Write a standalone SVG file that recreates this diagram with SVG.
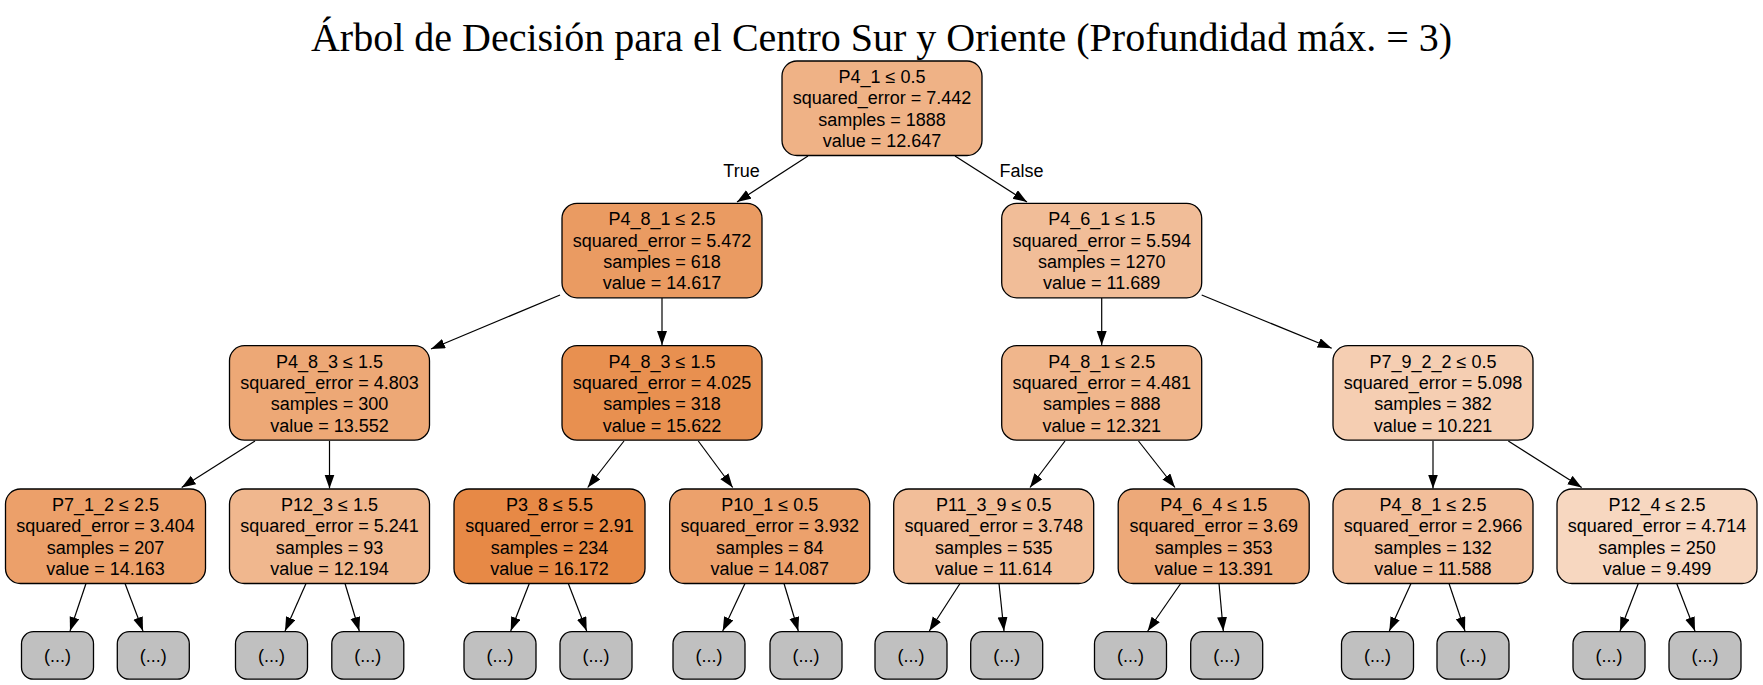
<svg xmlns="http://www.w3.org/2000/svg" width="1763" height="685" viewBox="0 0 1763 685">
<style>
.nd rect{stroke:#000;stroke-width:1.3}
.nd text{font-family:"Liberation Sans",Arial,sans-serif;font-size:18px;fill:#000;text-anchor:middle}
.lf rect{fill:#c0c0c0}
.ed line{stroke:#000;stroke-width:1.2;marker-end:url(#ah)}
.lb{font-family:"Liberation Sans",Arial,sans-serif;font-size:18px;fill:#000;text-anchor:middle}
.title{font-family:"Liberation Serif","Times New Roman",serif;font-size:40px;fill:#000;text-anchor:middle}
</style>
<defs>
<marker id="ah" markerUnits="userSpaceOnUse" markerWidth="15" markerHeight="11" refX="14" refY="5" orient="auto">
<path d="M0,0 L14,5 L0,10 z" fill="#000"/>
</marker>
</defs>
<rect x="0" y="0" width="1763" height="685" fill="#fff"/>
<text class="title" x="881.5" y="51">Árbol de Decisión para el Centro Sur y Oriente (Profundidad máx. = 3)</text>

<g id="edges" class="ed">
<line x1="808" y1="156" x2="737" y2="202"/>
<line x1="955" y1="156" x2="1027" y2="202"/>
<line x1="560" y1="295" x2="431" y2="349"/>
<line x1="662" y1="298" x2="662" y2="345"/>
<line x1="1101.7" y1="298" x2="1101.7" y2="345"/>
<line x1="1201.7" y1="295" x2="1331.7" y2="348.3"/>
<line x1="255" y1="441" x2="181.7" y2="487.5"/>
<line x1="329.5" y1="441" x2="329.5" y2="488.5"/>
<line x1="624" y1="441" x2="587.7" y2="487.5"/>
<line x1="698.3" y1="441" x2="732.7" y2="487.5"/>
<line x1="1065" y1="441" x2="1030" y2="487.5"/>
<line x1="1138.5" y1="441" x2="1175" y2="487.5"/>
<line x1="1433" y1="441" x2="1433" y2="488.5"/>
<line x1="1508.3" y1="441" x2="1581.7" y2="487.5"/>
<line x1="86" y1="583.5" x2="70" y2="631"/>
<line x1="125" y1="583.5" x2="143" y2="631"/>
<line x1="306" y1="583.5" x2="285" y2="631"/>
<line x1="345" y1="583.5" x2="359.3" y2="631"/>
<line x1="529.3" y1="583.5" x2="510.7" y2="631"/>
<line x1="568.3" y1="583.5" x2="586.7" y2="631"/>
<line x1="745" y1="583.5" x2="722.7" y2="631"/>
<line x1="784" y1="583.5" x2="798.3" y2="631"/>
<line x1="960" y1="583.5" x2="929.3" y2="631"/>
<line x1="999" y1="583.5" x2="1004" y2="631"/>
<line x1="1180.7" y1="583.5" x2="1147.7" y2="631"/>
<line x1="1219" y1="583.5" x2="1223.3" y2="631"/>
<line x1="1411" y1="583.5" x2="1389.3" y2="631"/>
<line x1="1449" y1="583.5" x2="1465" y2="631"/>
<line x1="1638.3" y1="583.5" x2="1620" y2="631"/>
<line x1="1676.7" y1="583.5" x2="1695" y2="631"/>
<text class="lb" x="741.5" y="177">True</text>
<text class="lb" x="1021.5" y="177">False</text>
</g>

<g id="n0" class="nd"><rect x="782" y="61" width="200" height="94.5" rx="15" fill="#efb286"/>
<text x="882" y="83">P4_1 ≤ 0.5</text><text x="882" y="104.3">squared_error = 7.442</text><text x="882" y="125.6">samples = 1888</text><text x="882" y="146.9">value = 12.647</text></g>

<g id="n1" class="nd"><rect x="562" y="203.3" width="200" height="94.5" rx="15" fill="#ea9b62"/>
<text x="662" y="225.3">P4_8_1 ≤ 2.5</text><text x="662" y="246.6">squared_error = 5.472</text><text x="662" y="267.9">samples = 618</text><text x="662" y="289.2">value = 14.617</text></g>

<g id="n2" class="nd"><rect x="1001.7" y="203.3" width="200" height="94.5" rx="15" fill="#f1bd98"/>
<text x="1101.7" y="225.3">P4_6_1 ≤ 1.5</text><text x="1101.7" y="246.6">squared_error = 5.594</text><text x="1101.7" y="267.9">samples = 1270</text><text x="1101.7" y="289.2">value = 11.689</text></g>

<g id="n3" class="nd"><rect x="229.5" y="345.7" width="200" height="94.5" rx="15" fill="#eda876"/>
<text x="329.5" y="367.7">P4_8_3 ≤ 1.5</text><text x="329.5" y="389">squared_error = 4.803</text><text x="329.5" y="410.3">samples = 300</text><text x="329.5" y="431.6">value = 13.552</text></g>

<g id="n4" class="nd"><rect x="562" y="345.7" width="200" height="94.5" rx="15" fill="#e89050"/>
<text x="662" y="367.7">P4_8_3 ≤ 1.5</text><text x="662" y="389">squared_error = 4.025</text><text x="662" y="410.3">samples = 318</text><text x="662" y="431.6">value = 15.622</text></g>

<g id="n5" class="nd"><rect x="1001.7" y="345.7" width="200" height="94.5" rx="15" fill="#f0b68c"/>
<text x="1101.7" y="367.7">P4_8_1 ≤ 2.5</text><text x="1101.7" y="389">squared_error = 4.481</text><text x="1101.7" y="410.3">samples = 888</text><text x="1101.7" y="431.6">value = 12.321</text></g>

<g id="n6" class="nd"><rect x="1333" y="345.7" width="200" height="94.5" rx="15" fill="#f5ceb2"/>
<text x="1433" y="367.7">P7_9_2_2 ≤ 0.5</text><text x="1433" y="389">squared_error = 5.098</text><text x="1433" y="410.3">samples = 382</text><text x="1433" y="431.6">value = 10.221</text></g>

<g id="n7" class="nd"><rect x="5.5" y="489" width="200" height="94.5" rx="15" fill="#eca06a"/>
<text x="105.5" y="511">P7_1_2 ≤ 2.5</text><text x="105.5" y="532.3">squared_error = 3.404</text><text x="105.5" y="553.6">samples = 207</text><text x="105.5" y="574.9">value = 14.163</text></g>

<g id="n8" class="nd"><rect x="229.5" y="489" width="200" height="94.5" rx="15" fill="#f0b78e"/>
<text x="329.5" y="511">P12_3 ≤ 1.5</text><text x="329.5" y="532.3">squared_error = 5.241</text><text x="329.5" y="553.6">samples = 93</text><text x="329.5" y="574.9">value = 12.194</text></g>

<g id="n9" class="nd"><rect x="454" y="489" width="191" height="94.5" rx="15" fill="#e78946"/>
<text x="549.5" y="511">P3_8 ≤ 5.5</text><text x="549.5" y="532.3">squared_error = 2.91</text><text x="549.5" y="553.6">samples = 234</text><text x="549.5" y="574.9">value = 16.172</text></g>

<g id="n10" class="nd"><rect x="669.7" y="489" width="200" height="94.5" rx="15" fill="#eca16c"/>
<text x="769.7" y="511">P10_1 ≤ 0.5</text><text x="769.7" y="532.3">squared_error = 3.932</text><text x="769.7" y="553.6">samples = 84</text><text x="769.7" y="574.9">value = 14.087</text></g>

<g id="n11" class="nd"><rect x="893.7" y="489" width="200" height="94.5" rx="15" fill="#f2be99"/>
<text x="993.7" y="511">P11_3_9 ≤ 0.5</text><text x="993.7" y="532.3">squared_error = 3.748</text><text x="993.7" y="553.6">samples = 535</text><text x="993.7" y="574.9">value = 11.614</text></g>

<g id="n12" class="nd"><rect x="1118.2" y="489" width="191" height="94.5" rx="15" fill="#eda979"/>
<text x="1213.7" y="511">P4_6_4 ≤ 1.5</text><text x="1213.7" y="532.3">squared_error = 3.69</text><text x="1213.7" y="553.6">samples = 353</text><text x="1213.7" y="574.9">value = 13.391</text></g>

<g id="n13" class="nd"><rect x="1333" y="489" width="200" height="94.5" rx="15" fill="#f2be9a"/>
<text x="1433" y="511">P4_8_1 ≤ 2.5</text><text x="1433" y="532.3">squared_error = 2.966</text><text x="1433" y="553.6">samples = 132</text><text x="1433" y="574.9">value = 11.588</text></g>

<g id="n14" class="nd"><rect x="1557" y="489" width="200" height="94.5" rx="15" fill="#f7d7c0"/>
<text x="1657" y="511">P12_4 ≤ 2.5</text><text x="1657" y="532.3">squared_error = 4.714</text><text x="1657" y="553.6">samples = 250</text><text x="1657" y="574.9">value = 9.499</text></g>

<g id="l1" class="nd lf"><rect x="21.5" y="631.7" width="72" height="47.5" rx="12"/><text x="57.5" y="662">(...)</text></g>
<g id="l2" class="nd lf"><rect x="117.3" y="631.7" width="72" height="47.5" rx="12"/><text x="153.3" y="662">(...)</text></g>
<g id="l3" class="nd lf"><rect x="235.5" y="631.7" width="72" height="47.5" rx="12"/><text x="271.5" y="662">(...)</text></g>
<g id="l4" class="nd lf"><rect x="331.8" y="631.7" width="72" height="47.5" rx="12"/><text x="367.8" y="662">(...)</text></g>
<g id="l5" class="nd lf"><rect x="464" y="631.7" width="72" height="47.5" rx="12"/><text x="500" y="662">(...)</text></g>
<g id="l6" class="nd lf"><rect x="560" y="631.7" width="72" height="47.5" rx="12"/><text x="596" y="662">(...)</text></g>
<g id="l7" class="nd lf"><rect x="673" y="631.7" width="72" height="47.5" rx="12"/><text x="709" y="662">(...)</text></g>
<g id="l8" class="nd lf"><rect x="770" y="631.7" width="72" height="47.5" rx="12"/><text x="806" y="662">(...)</text></g>
<g id="l9" class="nd lf"><rect x="875" y="631.7" width="72" height="47.5" rx="12"/><text x="911" y="662">(...)</text></g>
<g id="l10" class="nd lf"><rect x="970.7" y="631.7" width="72" height="47.5" rx="12"/><text x="1006.7" y="662">(...)</text></g>
<g id="l11" class="nd lf"><rect x="1094.5" y="631.7" width="72" height="47.5" rx="12"/><text x="1130.5" y="662">(...)</text></g>
<g id="l12" class="nd lf"><rect x="1190.7" y="631.7" width="72" height="47.5" rx="12"/><text x="1226.7" y="662">(...)</text></g>
<g id="l13" class="nd lf"><rect x="1341.5" y="631.7" width="72" height="47.5" rx="12"/><text x="1377.5" y="662">(...)</text></g>
<g id="l14" class="nd lf"><rect x="1437" y="631.7" width="72" height="47.5" rx="12"/><text x="1473" y="662">(...)</text></g>
<g id="l15" class="nd lf"><rect x="1573" y="631.7" width="72" height="47.5" rx="12"/><text x="1609" y="662">(...)</text></g>
<g id="l16" class="nd lf"><rect x="1669" y="631.7" width="72" height="47.5" rx="12"/><text x="1705" y="662">(...)</text></g>
</svg>
